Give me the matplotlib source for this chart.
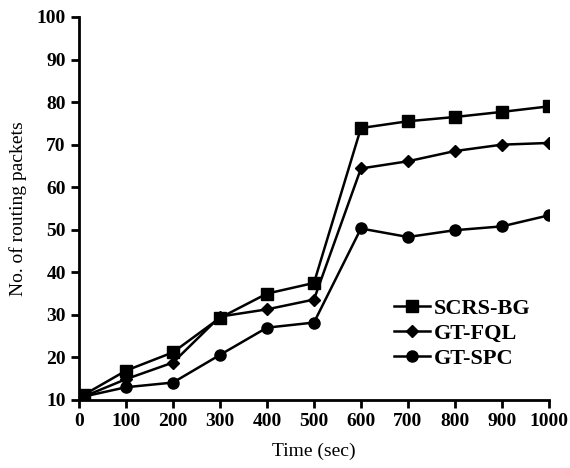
import matplotlib.pyplot as plt

time = [10, 100, 200, 300, 400, 500, 600, 700, 800, 900, 1000]
scrs_bg = [11.2, 16.9, 21.2, 29.3, 35.0, 37.5, 73.9, 75.5, 76.5, 77.7, 79.0]
gt_fql = [10.8, 14.9, 18.8, 29.6, 31.3, 33.6, 64.4, 66.1, 68.5, 70.0, 70.4]
gt_spc = [10.8, 13.0, 14.1, 20.6, 27.0, 28.2, 50.3, 48.3, 49.9, 50.8, 53.4]

x_ticks = list(range(0, 1001, 100))
y_ticks = list(range(10, 101, 10))


def main():
    plt.rcParams['font.family'] = ['Liberation Serif', 'DejaVu Serif']
    fig = plt.figure(figsize=(5.7, 4.68), dpi=100)
    ax = fig.add_axes([0.1386, 0.1453, 0.8244, 0.8184])

    ax.plot(time, gt_spc, color='black', lw=1.8, marker='o', ms=8, label='GT-SPC')
    ax.plot(time, gt_fql, color='black', lw=1.8, marker='D', ms=6, label='GT-FQL')
    ax.plot(time, scrs_bg, color='black', lw=1.8, marker='s', ms=8.5, label='SCRS-BG')

    ax.set_xlim(0, 1000)
    ax.set_ylim(10, 100)
    ax.set_xticks(x_ticks)
    ax.set_yticks(y_ticks)
    ax.spines['top'].set_visible(False)
    ax.spines['right'].set_visible(False)
    for s in ['left', 'bottom']:
        ax.spines[s].set_linewidth(2)
    ax.tick_params(width=2, length=6, labelsize=14, direction='out')
    for lab in ax.get_xticklabels() + ax.get_yticklabels():
        lab.set_fontweight('bold')

    ax.set_xlabel('Time (sec)', fontsize=14, labelpad=9)
    ax.set_ylabel('No. of routing packets', fontsize=14, labelpad=7)

    handles, labels = ax.get_legend_handles_labels()
    ax.legend(handles[::-1], labels[::-1], loc='lower right', bbox_to_anchor=(1.004, 0.03),
              frameon=False, handlelength=1.6, handletextpad=0.2,
              labelspacing=0.2, prop={'weight': 'bold', 'size': 16})

    fig.savefig('out.png', dpi=100)


if __name__ == "__main__":
    main()
